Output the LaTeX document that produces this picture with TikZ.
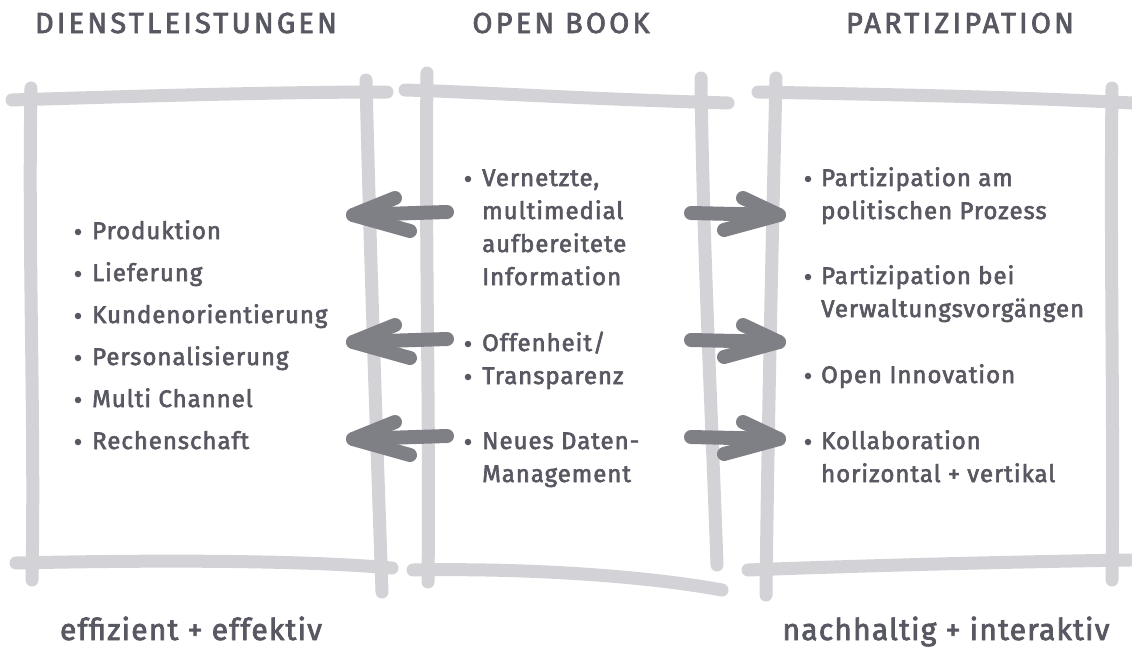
\documentclass[tikz,border=0pt]{standalone}
\usepackage{fontspec}
\setmainfont{Fira Sans}[FakeBold=2.5]
\definecolor{framegray}{HTML}{D3D3D7}
\definecolor{arrowgray}{HTML}{7F7F86}
\definecolor{textgray}{HTML}{585862}
\begin{document}
\begin{tikzpicture}[x=1pt,y=-1pt,
  frm/.style={draw=framegray, line width=13pt, line cap=round},
  arw/.style={draw=arrowgray, line width=14pt, line cap=round, line join=round},
  item/.style={anchor=base west, inner sep=0pt, text=textgray, font=\fontsize{24}{28}\selectfont\addfontfeatures{LetterSpace=4}},
  dot/.style={circle, fill=textgray, inner sep=0pt, minimum size=6.5pt},
  title/.style={anchor=base, inner sep=0pt, text=textgray, font=\fontsize{29}{33}\selectfont\addfontfeatures{LetterSpace=11}},
  foot/.style={anchor=base, inner sep=0pt, text=textgray, font=\fontsize{30}{34}\selectfont\addfontfeatures{LetterSpace=4}}
]
\useasboundingbox (0,0) rectangle (1132,651);

% ---------- frames ----------
% left
\draw[frm] (12,100) .. controls (140,96) and (280,92) .. (387,92);
\draw[frm] (31,88) .. controls (28,250) and (35,420) .. (32,580);
\draw[frm] (366,80) .. controls (370,250) and (376,420) .. (382,592);
\draw[frm] (16,563) .. controls (150,560) and (300,560) .. (392,568);
% middle
\draw[frm] (405,90) .. controls (480,92) and (560,98) .. (728,103);
\draw[frm] (427,73) .. controls (425,250) and (430,420) .. (428,582);
\draw[frm] (701,78) .. controls (703,250) and (712,420) .. (717,565);
\draw[frm] (413,570) .. controls (520,568) and (640,575) .. (722,590);
% right
\draw[frm] (758,92) .. controls (850,94) and (1000,96) .. (1132,103);
\draw[frm] (776,78) .. controls (772,250) and (768,420) .. (766,595);
\draw[frm] (1112,88) .. controls (1110,250) and (1114,420) .. (1112,580);
\draw[frm] (748,570) .. controls (850,566) and (1000,562) .. (1130,560);

% ---------- titles ----------
\node[title] (t1) at (186,33) {DIENSTLEISTUNGEN};
\node[title] (t2) at (561,33) {OPEN BOOK};
\node[title] (t3) at (960,33) {PARTIZIPATION};

% ---------- left list ----------
\foreach \i/\txt in {0/Produktion,1/Lieferung,2/Kundenorientierung,3/Personalisierung,4/Multi Channel,5/Rechenschaft}{
  \node[item] (l\i) at (92,239+42*\i) {\txt};
  \node[dot] (ld\i) at (78,239+42*\i-7) {};
}

% ---------- middle list ----------
\node[dot] (md1) at (468,179) {};
\node[item] (m1) at (482,186) {Vernetzte,};
\node[item] (m2) at (482,219) {multimedial};
\node[item] (m3) at (482,252) {aufbereitete};
\node[item] (m4) at (482,285) {Information};
\node[dot] (md2) at (468,344) {};
\node[item] (m5) at (482,351) {Offenheit/};
\node[dot] (md3) at (468,377) {};
\node[item] (m6) at (482,384) {Transparenz};
\node[dot] (md4) at (468,442) {};
\node[item] (m7) at (482,449) {Neues Daten-};
\node[item] (m8) at (482,482) {Management};

% ---------- right list ----------
\node[dot] (rd1) at (808,179) {};
\node[item] (r1) at (821,186) {Partizipation am};
\node[item] (r2) at (821,219) {politischen Prozess};
\node[dot] (rd2) at (808,277) {};
\node[item] (r3) at (821,284) {Partizipation bei};
\node[item] (r4) at (821,317) {Verwaltungsvorgängen};
\node[dot] (rd3) at (808,376) {};
\node[item] (r5) at (821,383) {Open Innovation};
\node[dot] (rd4) at (808,442) {};
\node[item] (r6) at (821,449) {Kollaboration};
\node[item] (r7) at (821,482) {horizontal + vertikal};

% ---------- arrows ----------
\foreach \k/\dy in {1/0,2/127,3/224}{
  \coordinate (la\k) at (447,212+\dy);
  \coordinate (lt\k) at (353,215+\dy);
  \coordinate (lu\k) at (395,198+\dy);
  \coordinate (ll\k) at (410,231+\dy);
  \draw[arw] (la\k) -- (lt\k);
  \draw[arw] (lu\k) -- (lt\k) -- (ll\k);
  \coordinate (ra\k) at (691,213+\dy);
  \coordinate (rt\k) at (779,215+\dy);
  \coordinate (ru\k) at (743,198+\dy);
  \coordinate (rl\k) at (724,230+\dy);
  \draw[arw] (ra\k) -- (rt\k);
  \draw[arw] (ru\k) -- (rt\k) -- (rl\k);
}

% ---------- footers ----------
\node[foot] (f1) at (191,640) {effizient + effektiv};
\node[foot] (f2) at (946,640) {nachhaltig + interaktiv};
\end{tikzpicture}
\end{document}
